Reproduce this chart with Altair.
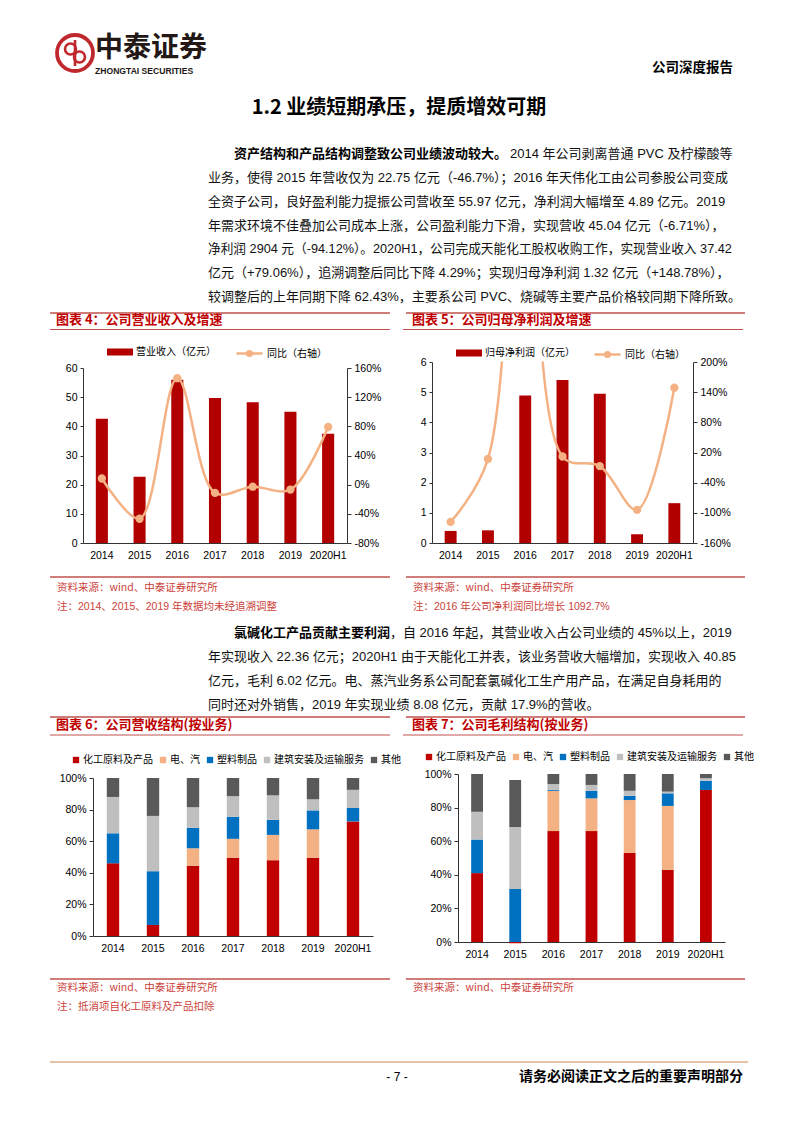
import altair as alt
import pandas as pd

CJK = "Noto Sans CJK SC"
BODY = "Liberation Sans, Noto Sans CJK SC"
NUM = "Liberation Sans"

BAR_RED = "#B20000"
PEACH = "#F4B183"
SEG_COLORS = ["#C00000", "#F4B183", "#0070C0", "#BFBFBF", "#595959"]
TITLE_RED = "#C00000"
LINE_RED = "#C0504D"
SRC_RED = "#CC3F3A"
AX = "#333333"

W, H = 777, 1082          # canvas (page minus the 8px margin)
OX, OY = 8, 8             # page offset of the canvas

# ---------------- data ----------------
years = ["2014", "2015", "2016", "2017", "2018", "2019", "2020H1"]
revenue = [42.6, 22.75, 55.97, 49.7, 48.3, 45.04, 37.42]
revenue_yoy = [8.5, -46.7, 146.0, -11.2, -2.8, -6.71, 79.06]
profit = [0.40, 0.42, 4.89, 5.40, 4.95, 0.29, 1.32]
profit_yoy = [-118.0, 7.0, 1092.7, 12.0, -7.0, -94.12, 148.78]

segments = ["化工原料及产品", "电、汽", "塑料制品", "建筑安装及运输服务", "其他"]
rev_chem = [46, 7, 44.5, 49.5, 48, 49.5, 72.5]
rev_power = [0, 0, 11, 12, 16, 18, 0]
rev_plastic = [19, 34, 13, 14, 9.5, 12, 8.5]
rev_constr = [23, 35, 13, 13, 15.5, 7, 11.5]
rev_other = [12, 24, 18.5, 11.5, 11, 13.5, 7.5]

gp_chem = [41, -0.8, 66, 66, 53, 43, 90.5]
gp_power = [0, 0, 24, 19.5, 31.5, 38, 0]
gp_plastic = [20, 31.5, 0.5, 4.5, 2.5, 7.5, 5.5]
gp_constr = [16.5, 37, 3.5, 3.5, 3, 1, 1.5]
gp_other = [22.5, 28, 6, 6.5, 10, 10.5, 2.5]

para1 = [
    "业务，使得 2015 年营收仅为 22.75 亿元（-46.7%）；2016 年天伟化工由公司参股公司变成",
    "全资子公司，良好盈利能力提振公司营收至 55.97 亿元，净利润大幅增至 4.89 亿元。2019",
    "年需求环境不佳叠加公司成本上涨，公司盈利能力下滑，实现营收 45.04 亿元（-6.71%），",
    "净利润 2904 元（-94.12%）。2020H1，公司完成天能化工股权收购工作，实现营业收入 37.42",
    "亿元（+79.06%），追溯调整后同比下降 4.29%；实现归母净利润 1.32 亿元（+148.78%），",
    "较调整后的上年同期下降 62.43%，主要系公司 PVC、烧碱等主要产品价格较同期下降所致。",
]
para1_bold = "资产结构和产品结构调整致公司业绩波动较大。"
para1_first = "2014 年公司剥离普通 PVC 及柠檬酸等"

para2_bold = "氯碱化工产品贡献主要利润"
para2_first = "，自 2016 年起，其营业收入占公司业绩的 45%以上，2019"
para2 = [
    "年实现收入 22.36 亿元；2020H1 由于天能化工并表，该业务营收大幅增加，实现收入 40.85",
    "亿元，毛利 6.02 亿元。电、蒸汽业务系公司配套氯碱化工生产用产品，在满足自身耗用的",
    "同时还对外销售，2019 年实现业绩 8.08 亿元，贡献 17.9%的营收。",
]


def blank():
    return alt.Data(values=[{}])


def txt(s, x, y, size=13, weight="normal", color="#111111", align="left", font=BODY):
    return alt.Chart(blank()).mark_text(
        text=s, fontSize=size, fontWeight=weight, color=color, align=align,
        baseline="middle", font=font
    ).encode(x=alt.value(x - OX), y=alt.value(y - OY))


def hline(x1, x2, y, color=LINE_RED, w=1.3):
    return alt.Chart(blank()).mark_rule(color=color, strokeWidth=w).encode(
        x=alt.value(x1 - OX), x2=alt.value(x2 - OX), y=alt.value(y - OY))


# ---------------- bar + line charts ----------------
BAR_PATH = "M-1,-0.27H1V0.27H-1Z"
LINE_PATH = "M-1,0H1M0.18,0A0.18,0.18,0,1,1,-0.18,0A0.18,0.18,0,1,1,0.18,0"


def axis_common(**kw):
    base = dict(grid=False, labelFont=NUM, labelFontSize=10.5, labelColor="#000000",
                domainColor=AX, domainWidth=1, tickColor=AX)
    base.update(kw)
    return alt.Axis(**base)


def bar_line(values, yoy, bar_name, line_name, ldom, lvals, rdom, rvals,
             px, py, bx, lx, ly):
    # px, py: plot area on the page (left, right), (top, bottom)
    x0, x1 = px[0] - OX, px[1] - OX
    yt, yb = py[0] - OY, py[1] - OY
    df = pd.DataFrame({"year": years, "v": values, "g": yoy,
                       "bar": [bar_name] * 7, "line": [line_name] * 7})
    x = alt.X("year:N", sort=years, title=None,
              scale=alt.Scale(paddingInner=0.68, paddingOuter=0.34, range=[x0, x1]),
              axis=axis_common(orient="bottom", offset=yb - H, labelAngle=0, ticks=False,
                               labelPadding=7))
    base = alt.Chart(df)
    bars = base.mark_bar().encode(
        x=x,
        y=alt.Y("v:Q", title=None,
                scale=alt.Scale(domain=ldom, nice=False, zero=False, range=[yb, yt]),
                axis=axis_common(orient="left", offset=-x0, values=lvals, tickSize=3,
                                 labelPadding=3)),
        fill=alt.Fill("bar:N", scale=alt.Scale(range=[BAR_RED]),
                      legend=alt.Legend(title=None, orient="none", legendX=bx - OX,
                                        legendY=ly - OY, zindex=2,
                                        symbolType=BAR_PATH, symbolSize=676, symbolStrokeWidth=0,
                                        labelFont=CJK, labelFontSize=10, labelOffset=3,
                                        labelColor="#000000")),
    )
    line = base.mark_line(
        interpolate="catmull-rom", strokeWidth=2.5,
        point=alt.OverlayMarkDef(filled=True, size=40, color=PEACH, opacity=1),
    ).encode(
        x=x,
        y=alt.Y("g:Q", title=None,
                scale=alt.Scale(domain=rdom, nice=False, zero=False, range=[yb, yt]),
                axis=axis_common(orient="right", offset=x1 - W, values=rvals,
                                 labelExpr="datum.value + '%'", tickSize=4, labelPadding=3)),
        stroke=alt.Stroke("line:N", scale=alt.Scale(range=[PEACH]),
                          legend=alt.Legend(title=None, orient="none", legendX=lx - OX,
                                            legendY=ly - OY, zindex=2,
                                            symbolType=LINE_PATH, symbolSize=676,
                                            symbolStrokeWidth=2.5, symbolFillColor=PEACH,
                                            labelFont=CJK, labelFontSize=10, labelOffset=3,
                                            labelColor="#000000")),
    )
    return alt.layer(bars, line).resolve_scale(y="independent")


chart4 = bar_line(revenue, revenue_yoy, "营业收入（亿元）", "同比（右轴）",
                  [0, 60], [0, 10, 20, 30, 40, 50, 60], [-80, 160],
                  [-80, -40, 0, 40, 80, 120, 160],
                  (83, 347), (368, 543), 107, 235, 339)
chart5 = bar_line(profit, profit_yoy, "归母净利润（亿元）", "同比（右轴）",
                  [0, 6], [0, 1, 2, 3, 4, 5, 6], [-160, 200],
                  [-160, -100, -40, 20, 80, 140, 200],
                  (432, 693), (362, 543), 456, 593, 340)


# ---------------- stacked % charts ----------------
def stacked(series, px, py, lx, ly):
    x0, x1 = px[0] - OX, px[1] - OX
    yt, yb = py[0] - OY, py[1] - OY
    rows = []
    for si, (seg, vals) in enumerate(zip(segments, series)):
        for y, v in zip(years, vals):
            rows.append({"year": y, "seg": seg, "v": v, "k": si})
    df = pd.DataFrame(rows)
    return alt.Chart(df).mark_bar().encode(
        x=alt.X("year:N", sort=years, title=None,
                scale=alt.Scale(paddingInner=0.69, paddingOuter=0.345, range=[x0, x1]),
                axis=axis_common(orient="bottom", offset=yb - H, labelAngle=0, ticks=False,
                                 labelPadding=7)),
        y=alt.Y("v:Q", title=None, stack="zero",
                scale=alt.Scale(domain=[0, 100], nice=False, zero=False, range=[yb, yt]),
                axis=axis_common(orient="left", offset=-x0, values=[0, 20, 40, 60, 80, 100],
                                 labelExpr="datum.value + '%'", tickSize=4, labelPadding=3)),
        color=alt.Color("seg:N", scale=alt.Scale(domain=segments, range=SEG_COLORS),
                        legend=alt.Legend(title=None, orient="none", direction="horizontal",
                                          legendX=lx - OX, legendY=ly - OY, zindex=2,
                                          symbolType="square",
                                          symbolSize=40, symbolStrokeWidth=0, labelFont=CJK,
                                          labelFontSize=10, labelOffset=2, columnPadding=5,
                                          labelColor="#000000")),
        order=alt.Order("k:Q", sort="ascending"),
    )


chart6 = stacked([rev_chem, rev_power, rev_plastic, rev_constr, rev_other],
                 (93, 373), (778, 936), 71, 755)
chart7 = stacked([gp_chem, gp_power, gp_plastic, gp_constr, gp_other],
                 (458, 725), (774, 942), 424, 752)

# white mask above chart 5 (its growth line leaves the plot at 2016: +1092.7%)
mask = alt.Chart(blank()).mark_rect(color="#ffffff").encode(
    x=alt.value(433 - OX), x2=alt.value(692 - OX), y=alt.value(0), y2=alt.value(361.5 - OY))

# ---------------- texts and decorations ----------------
deco = []
deco.append(alt.Chart(blank()).mark_point(shape="circle", size=1296, filled=False, color="#C0282D",
                                          strokeWidth=3.8, opacity=1).encode(
    x=alt.value(75 - OX), y=alt.value(53 - OY)))
for cx, cy in [(70.5, 49), (79.5, 57)]:
    deco.append(alt.Chart(blank()).mark_point(shape="circle", size=120, filled=False,
                                              color="#C0282D", strokeWidth=2.6, opacity=1).encode(
        x=alt.value(cx - OX), y=alt.value(cy - OY)))
deco.append(alt.Chart(blank()).mark_rule(color="#C0282D", strokeWidth=2.6).encode(
    x=alt.value(75 - OX), y=alt.value(40 - OY), y2=alt.value(66 - OY)))
deco += [
    txt("中泰证券", 95, 49, size=28, weight="bold", color="#231815", font=CJK),
    txt("ZHONGTAI SECURITIES", 95, 71, size=8.6, weight="bold", color="#231815", font=NUM),
    txt("公司深度报告", 733, 68, size=13.5, weight="bold", color="#000000", align="right", font=CJK),
    txt("1.2 业绩短期承压，提质增效可期", 399, 108, size=20, weight="bold", color="#000000",
        align="center", font=CJK),
    txt(para1_bold, 234, 154, size=13, weight="bold", color="#000000", font=CJK),
    txt(para1_first, 510, 154, size=13),
]
for i, line in enumerate(para1):
    deco.append(txt(line, 208, 178 + i * 23.8, size=12.7 if i == 3 else 13))
deco += [
    hline(50, 390, 313), hline(406, 745, 313),
    txt("图表 4：公司营业收入及增速", 56, 320, size=13, weight="bold", color=TITLE_RED, font=CJK),
    txt("图表 5：公司归母净利润及增速", 412, 320, size=13, weight="bold", color=TITLE_RED, font=CJK),
    hline(50, 390, 329.5, w=1), hline(403, 743, 329.5, w=1),
    hline(50, 390, 577), hline(406, 745, 577),
    txt("资料来源：wind、中泰证券研究所", 57, 588, size=10.5, color=SRC_RED, font=CJK),
    txt("注：2014、2015、2019 年数据均未经追溯调整", 57, 607, size=10.5, color=SRC_RED),
    txt("资料来源：wind、中泰证券研究所", 413, 588, size=10.5, color=SRC_RED, font=CJK),
    txt("注：2016 年公司净利润同比增长 1092.7%", 413, 607, size=10.5, color=SRC_RED),
    txt(para2_bold, 234, 633, size=13, weight="bold", color="#000000", font=CJK),
    txt(para2_first, 390, 633, size=13),
]
for i, line in enumerate(para2):
    deco.append(txt(line, 208, 657 + i * 24, size=13))
deco += [
    hline(50, 390, 717), hline(406, 745, 717),
    txt("图表 6：公司营收结构(按业务)", 56, 725, size=13, weight="bold", color=TITLE_RED, font=CJK),
    txt("图表 7：公司毛利结构(按业务)", 412, 725, size=13, weight="bold", color=TITLE_RED, font=CJK),
    hline(50, 390, 735, w=1), hline(403, 743, 735, w=1),
    hline(50, 390, 979), hline(406, 745, 979),
    txt("资料来源：wind、中泰证券研究所", 57, 988, size=10.5, color=SRC_RED, font=CJK),
    txt("注：抵消项自化工原料及产品扣除", 57, 1007, size=10.5, color=SRC_RED, font=CJK),
    txt("资料来源：wind、中泰证券研究所", 413, 988, size=10.5, color=SRC_RED, font=CJK),
    hline(50, 748, 1062, color="#E6C2A6", w=2),
    txt("- 7 -", 397, 1077, size=12, color="#000000", align="center", font=NUM),
    txt("请务必阅读正文之后的重要声明部分", 743, 1077, size=14, weight="bold", color="#000000",
        align="right", font=CJK),
]

chart = alt.layer(chart4, chart5, chart6, chart7, mask, *deco).resolve_scale(
    x="independent", y="independent", fill="independent", stroke="independent",
    color="independent",
).properties(
    width=W, height=H, padding=0, autosize=alt.AutoSizeParams(type="none")
).configure_view(stroke=None)

chart.save("out.html", embed_options={"renderer": "svg", "actions": False})
